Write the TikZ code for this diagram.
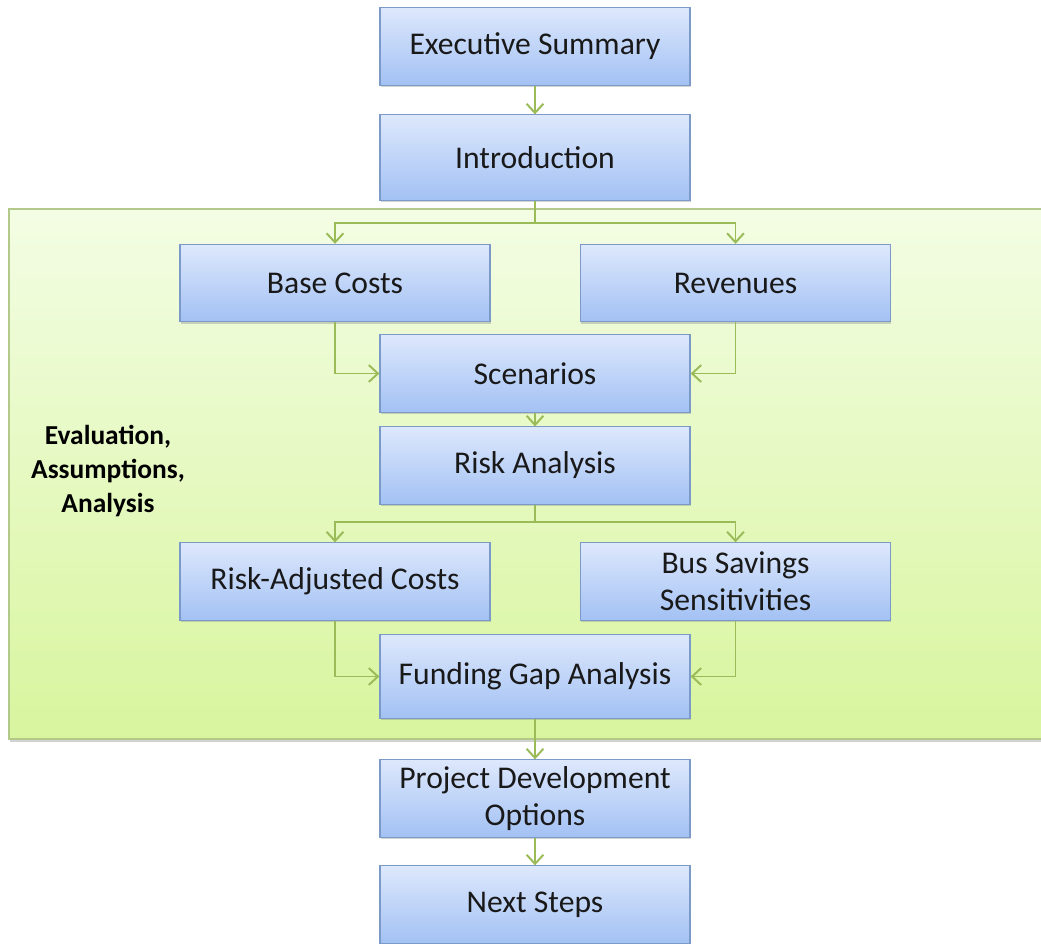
\documentclass[tikz,border=0pt]{standalone}
\usepackage{fontspec}
\setmainfont{Carlito}
\usetikzlibrary{arrows.meta,shadows}
\definecolor{boxtop}{HTML}{DDE8FC}
\definecolor{boxbot}{HTML}{A3C1F4}
\definecolor{boxline}{HTML}{7B9AC8}
\definecolor{linkgreen}{HTML}{9BBB59}
\definecolor{paneltop}{HTML}{F3FDE4}
\definecolor{panelbot}{HTML}{D8F59E}
\definecolor{panelline}{HTML}{B3C98A}
\tikzset{
  stepbox/.style={shape=rectangle,draw=boxline,line width=0.8pt,top color=boxtop,bottom color=boxbot,
    minimum width=7.75cm,minimum height=1.93cm,align=center,text=black!90,
    font=\fontsize{22.5}{26.5}\selectfont,drop shadow={shadow xshift=0.5pt,shadow yshift=-1.5pt,opacity=0.35}},
  link/.style={draw=linkgreen,line width=1.4pt,-{Straight Barb[length=6.5pt,width=12pt,line width=1.4pt]}},
  panel/.style={draw=panelline,line width=1pt,top color=paneltop,bottom color=panelbot,
    drop shadow={shadow xshift=0.5pt,shadow yshift=-2pt,opacity=0.35}}
}
\begin{document}
\begin{tikzpicture}[x=0.025cm,y=-0.025cm]
            \useasboundingbox (0,0) rectangle (1041,943);
            % shaded background of the middle part
            \draw[panel] (9,209) rectangle (1070,739);
            \node (evallabel) at (108,471) [align=center,font=\fontsize{19.5}{24.5}\selectfont\bfseries] {Evaluation,\\Assumptions,\\Analysis};
            \node (exec) at (535,46.5) [stepbox] {Executive Summary};
            \node (intro) at (535,157.5) [stepbox,minimum height=2.13cm] {Introduction};
            \node (base) at (335,283) [stepbox] {Base Costs};
            \node (rev) at (735.5,283) [stepbox] {Revenues};
            \node (scen) at (535,373.5) [stepbox] {Scenarios};
            \node (risk) at (535,465.5) [stepbox] {Risk Analysis};
            \node (radj) at (335,581.5) [stepbox] {Risk-Adjusted Costs};
            \node (bus) at (735.5,581.5) [stepbox] {Bus Savings\\Sensitivities};
            \node (fund) at (535,676.5) [stepbox,minimum height=2.08cm] {Funding Gap Analysis};
            \node (proj) at (535,798.5) [stepbox] {Project Development\\Options};
            \node (next) at (535,904.5) [stepbox] {Next Steps};
            \draw[link] (exec)--(intro);
            \draw[link] (intro.south)--++(0,22)-|(base.north);
            \draw[link] (intro.south)--++(0,22)-|(rev.north);
            \draw[link] (base.south)|-(scen.west);
            \draw[link] (rev.south)|-(scen.east);
            \draw[link] (scen)--(risk);
            \draw[link] (risk.south)--++(0,17)-|(radj.north);
            \draw[link] (risk.south)--++(0,17)-|(bus.north);
            \draw[link] (radj.south)|-(fund.west);
            \draw[link] (bus.south)|-(fund.east);
            \draw[link] (fund)--(proj);
            \draw[link] (proj)--(next);
        \end{tikzpicture}
\end{document}
